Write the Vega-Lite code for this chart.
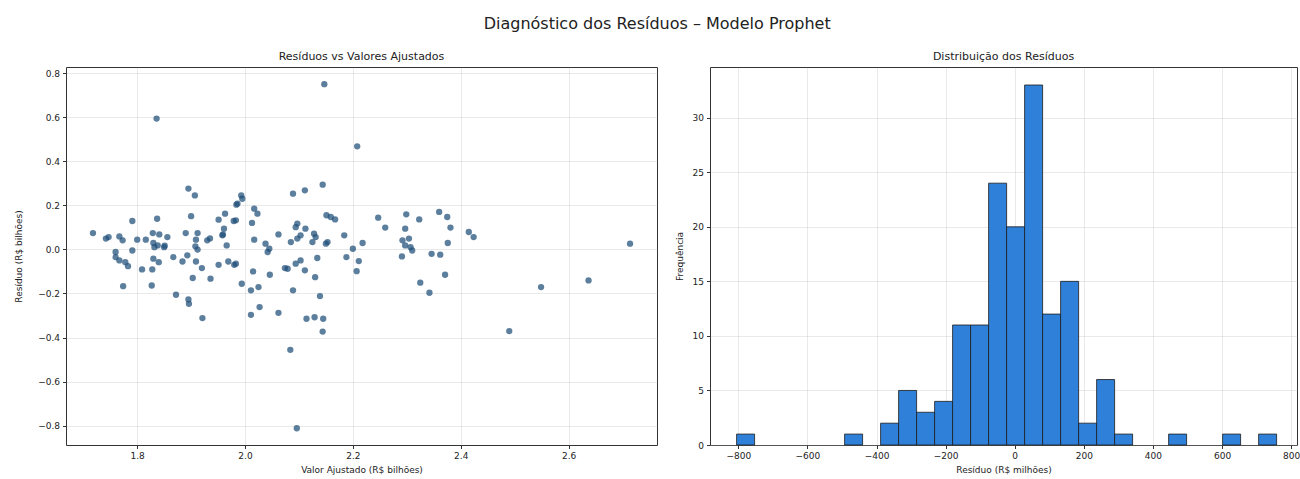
{
  "$schema": "https://vega.github.io/schema/vega-lite/v6.json",
  "padding": {"left": 14, "top": 15, "right": 0, "bottom": 0},
  "title": {"text": "Diagnóstico dos Resíduos – Modelo Prophet", "fontSize": 16, "fontWeight": "normal", "anchor": "middle", "color": "#222", "offset": 19},
  "datasets": {
    "scatter": [
      {"ajustado": 1.718, "residuo": 0.074}, {"ajustado": 1.742, "residuo": 0.049}, {"ajustado": 1.747, "residuo": 0.056},
      {"ajustado": 1.767, "residuo": 0.059}, {"ajustado": 1.773, "residuo": 0.041}, {"ajustado": 1.791, "residuo": 0.129},
      {"ajustado": 1.800, "residuo": 0.044}, {"ajustado": 1.816, "residuo": 0.044}, {"ajustado": 1.829, "residuo": 0.074},
      {"ajustado": 1.841, "residuo": 0.068}, {"ajustado": 1.830, "residuo": 0.029}, {"ajustado": 1.838, "residuo": 0.018},
      {"ajustado": 1.856, "residuo": 0.056}, {"ajustado": 1.851, "residuo": 0.017}, {"ajustado": 1.837, "residuo": 0.139},
      {"ajustado": 1.890, "residuo": 0.074}, {"ajustado": 1.912, "residuo": 0.074}, {"ajustado": 1.909, "residuo": 0.044},
      {"ajustado": 1.930, "residuo": 0.041}, {"ajustado": 1.935, "residuo": 0.050}, {"ajustado": 1.958, "residuo": 0.064},
      {"ajustado": 1.961, "residuo": 0.094}, {"ajustado": 1.966, "residuo": 0.018}, {"ajustado": 1.895, "residuo": 0.276},
      {"ajustado": 1.907, "residuo": 0.245}, {"ajustado": 1.900, "residuo": 0.151}, {"ajustado": 1.951, "residuo": 0.135},
      {"ajustado": 1.963, "residuo": 0.162}, {"ajustado": 1.979, "residuo": 0.129}, {"ajustado": 1.984, "residuo": 0.203},
      {"ajustado": 1.993, "residuo": 0.245}, {"ajustado": 1.995, "residuo": 0.230}, {"ajustado": 1.986, "residuo": 0.208},
      {"ajustado": 1.983, "residuo": 0.132}, {"ajustado": 1.791, "residuo": -0.005}, {"ajustado": 1.912, "residuo": -0.001},
      {"ajustado": 1.760, "residuo": -0.012}, {"ajustado": 1.760, "residuo": -0.035}, {"ajustado": 1.767, "residuo": -0.050},
      {"ajustado": 1.778, "residuo": -0.058}, {"ajustado": 1.783, "residuo": -0.076}, {"ajustado": 1.809, "residuo": -0.091},
      {"ajustado": 1.828, "residuo": -0.091}, {"ajustado": 1.830, "residuo": -0.042}, {"ajustado": 1.840, "residuo": -0.058},
      {"ajustado": 1.774, "residuo": -0.167}, {"ajustado": 1.827, "residuo": -0.164}, {"ajustado": 1.867, "residuo": -0.035},
      {"ajustado": 1.884, "residuo": -0.055}, {"ajustado": 1.893, "residuo": -0.027}, {"ajustado": 1.909, "residuo": -0.055},
      {"ajustado": 1.920, "residuo": -0.085}, {"ajustado": 1.903, "residuo": -0.130}, {"ajustado": 1.936, "residuo": -0.133},
      {"ajustado": 1.951, "residuo": -0.070}, {"ajustado": 1.969, "residuo": -0.055}, {"ajustado": 1.980, "residuo": -0.070},
      {"ajustado": 1.994, "residuo": -0.156}, {"ajustado": 1.872, "residuo": -0.206}, {"ajustado": 1.895, "residuo": -0.227},
      {"ajustado": 1.896, "residuo": -0.247}, {"ajustado": 1.921, "residuo": -0.312}, {"ajustado": 1.832, "residuo": 0.010},
      {"ajustado": 1.850, "residuo": 0.010}, {"ajustado": 2.017, "residuo": 0.185}, {"ajustado": 2.023, "residuo": 0.162},
      {"ajustado": 2.013, "residuo": 0.120}, {"ajustado": 2.017, "residuo": 0.044}, {"ajustado": 2.038, "residuo": 0.026},
      {"ajustado": 2.045, "residuo": 0.003}, {"ajustado": 2.062, "residuo": 0.068}, {"ajustado": 2.089, "residuo": 0.253},
      {"ajustado": 2.111, "residuo": 0.268}, {"ajustado": 2.144, "residuo": 0.294}, {"ajustado": 2.097, "residuo": 0.117},
      {"ajustado": 2.094, "residuo": 0.101}, {"ajustado": 2.112, "residuo": 0.094}, {"ajustado": 2.085, "residuo": 0.033},
      {"ajustado": 2.097, "residuo": 0.049}, {"ajustado": 2.103, "residuo": 0.064}, {"ajustado": 2.128, "residuo": 0.071},
      {"ajustado": 2.131, "residuo": 0.056}, {"ajustado": 2.125, "residuo": 0.033}, {"ajustado": 2.150, "residuo": 0.026},
      {"ajustado": 2.153, "residuo": 0.033}, {"ajustado": 2.151, "residuo": 0.155}, {"ajustado": 2.159, "residuo": 0.147},
      {"ajustado": 2.167, "residuo": 0.136}, {"ajustado": 2.184, "residuo": 0.064}, {"ajustado": 2.218, "residuo": 0.029},
      {"ajustado": 2.200, "residuo": 0.003}, {"ajustado": 2.247, "residuo": 0.144}, {"ajustado": 2.260, "residuo": 0.099},
      {"ajustado": 2.299, "residuo": 0.159}, {"ajustado": 2.297, "residuo": 0.094}, {"ajustado": 2.304, "residuo": 0.049},
      {"ajustado": 2.292, "residuo": 0.041}, {"ajustado": 2.307, "residuo": 0.010}, {"ajustado": 2.042, "residuo": -0.012},
      {"ajustado": 1.983, "residuo": -0.065}, {"ajustado": 2.015, "residuo": -0.100}, {"ajustado": 2.011, "residuo": -0.186},
      {"ajustado": 2.025, "residuo": -0.171}, {"ajustado": 2.046, "residuo": -0.115}, {"ajustado": 2.074, "residuo": -0.085},
      {"ajustado": 2.079, "residuo": -0.088}, {"ajustado": 2.094, "residuo": -0.065}, {"ajustado": 2.103, "residuo": -0.050},
      {"ajustado": 2.111, "residuo": -0.095}, {"ajustado": 2.134, "residuo": -0.039}, {"ajustado": 2.130, "residuo": -0.126},
      {"ajustado": 2.089, "residuo": -0.186}, {"ajustado": 2.139, "residuo": -0.212}, {"ajustado": 2.027, "residuo": -0.262},
      {"ajustado": 2.011, "residuo": -0.297}, {"ajustado": 2.062, "residuo": -0.288}, {"ajustado": 2.114, "residuo": -0.315},
      {"ajustado": 2.129, "residuo": -0.308}, {"ajustado": 2.145, "residuo": -0.315}, {"ajustado": 2.144, "residuo": -0.373},
      {"ajustado": 2.188, "residuo": -0.035}, {"ajustado": 2.211, "residuo": -0.053}, {"ajustado": 2.207, "residuo": -0.099},
      {"ajustado": 2.291, "residuo": -0.032}, {"ajustado": 2.323, "residuo": 0.136}, {"ajustado": 2.360, "residuo": 0.170},
      {"ajustado": 2.375, "residuo": 0.147}, {"ajustado": 2.381, "residuo": 0.099}, {"ajustado": 2.376, "residuo": 0.029},
      {"ajustado": 2.415, "residuo": 0.079}, {"ajustado": 2.424, "residuo": 0.056}, {"ajustado": 2.310, "residuo": -0.005},
      {"ajustado": 2.346, "residuo": -0.020}, {"ajustado": 2.362, "residuo": -0.024}, {"ajustado": 2.371, "residuo": -0.115},
      {"ajustado": 2.325, "residuo": -0.151}, {"ajustado": 2.342, "residuo": -0.197}, {"ajustado": 2.297, "residuo": 0.018},
      {"ajustado": 1.836, "residuo": 0.594}, {"ajustado": 2.147, "residuo": 0.750}, {"ajustado": 2.208, "residuo": 0.468},
      {"ajustado": 2.096, "residuo": -0.812}, {"ajustado": 2.084, "residuo": -0.456}, {"ajustado": 2.490, "residuo": -0.371},
      {"ajustado": 2.549, "residuo": -0.171}, {"ajustado": 2.637, "residuo": -0.141}, {"ajustado": 2.714, "residuo": 0.026},
      {"ajustado": 1.959, "residuo": 0.068}, {"ajustado": 1.908, "residuo": 0.014}
    ],
    "hist": [
      {"inicio": -805.0, "fim": -752.9, "freq": 1},
      {"inicio": -492.4, "fim": -440.3, "freq": 1},
      {"inicio": -388.2, "fim": -336.1, "freq": 2},
      {"inicio": -336.1, "fim": -284.0, "freq": 5},
      {"inicio": -284.0, "fim": -231.9, "freq": 3},
      {"inicio": -231.9, "fim": -179.8, "freq": 4},
      {"inicio": -179.8, "fim": -127.7, "freq": 11},
      {"inicio": -127.7, "fim": -75.6, "freq": 11},
      {"inicio": -75.6, "fim": -23.5, "freq": 24},
      {"inicio": -23.5, "fim": 28.6, "freq": 20},
      {"inicio": 28.6, "fim": 80.7, "freq": 33},
      {"inicio": 80.7, "fim": 132.8, "freq": 12},
      {"inicio": 132.8, "fim": 184.9, "freq": 15},
      {"inicio": 184.9, "fim": 237.0, "freq": 2},
      {"inicio": 237.0, "fim": 289.1, "freq": 6},
      {"inicio": 289.1, "fim": 341.2, "freq": 1},
      {"inicio": 445.4, "fim": 497.5, "freq": 1},
      {"inicio": 601.7, "fim": 653.8, "freq": 1},
      {"inicio": 705.9, "fim": 758.0, "freq": 1}
    ]
  },
  "hconcat": [
    {
      "width": 591,
      "height": 378,
      "title": {"text": "Resíduos vs Valores Ajustados", "fontSize": 11, "fontWeight": "normal", "color": "#222", "offset": 5},
      "layer": [
        {
          "data": {"name": "scatter"},
          "mark": {"type": "circle", "size": 40, "color": "#1f4e79", "opacity": 0.72},
          "encoding": {
            "x": {"field": "ajustado", "type": "quantitative", "title": "Valor Ajustado (R$ bilhões)",
                  "scale": {"domain": [1.668, 2.764], "nice": false, "zero": false},
                  "axis": {"values": [1.8, 2.0, 2.2, 2.4, 2.6], "format": ".1f"}},
            "y": {"field": "residuo", "type": "quantitative", "title": "Resíduo (R$ bilhões)",
                  "scale": {"domain": [-0.888, 0.828], "nice": false, "zero": false},
                  "axis": {"values": [-0.8, -0.6, -0.4, -0.2, 0.0, 0.2, 0.4, 0.6, 0.8], "format": ".1f", "titlePadding": 14}}
          }
        },
        {
          "mark": {"type": "rule", "color": "#ff1a1a", "strokeDash": [6, 4], "strokeWidth": 1.5},
          "encoding": {"y": {"datum": 0}}
        }
      ]
    },
    {
      "width": 587,
      "height": 378,
      "title": {"text": "Distribuição dos Resíduos", "fontSize": 11, "fontWeight": "normal", "color": "#222", "offset": 5},
      "data": {"name": "hist"},
      "mark": {"type": "bar", "color": "#2f80d8", "stroke": "#1a1a1a", "strokeWidth": 0.8},
      "encoding": {
        "x": {"field": "inicio", "type": "quantitative", "title": "Resíduo (R$ milhões)",
              "scale": {"domain": [-882, 817], "nice": false, "zero": false},
              "axis": {"values": [-800, -600, -400, -200, 0, 200, 400, 600, 800]}},
        "x2": {"field": "fim"},
        "y": {"field": "freq", "type": "quantitative", "title": "Frequência",
              "scale": {"domain": [0, 34.65], "nice": false},
              "axis": {"values": [0, 5, 10, 15, 20, 25, 30], "titlePadding": 8}},
        "y2": {"datum": 0}
      }
    }
  ],
  "spacing": 16,
  "config": {
    "font": "DejaVu Sans",
    "view": {"stroke": "#333", "strokeWidth": 1},
    "axis": {
      "domain": false,
      "grid": true,
      "gridColor": "#b0b0b0",
      "gridOpacity": 0.35,
      "gridWidth": 0.8,
      "tickColor": "#333",
      "tickSize": 3.5,
      "labelFontSize": 9,
      "labelColor": "#222",
      "titleFontSize": 9,
      "titleFontWeight": "normal",
      "titleColor": "#222",
      "labelPadding": 3,
      "titlePadding": 5
    }
  }
}
